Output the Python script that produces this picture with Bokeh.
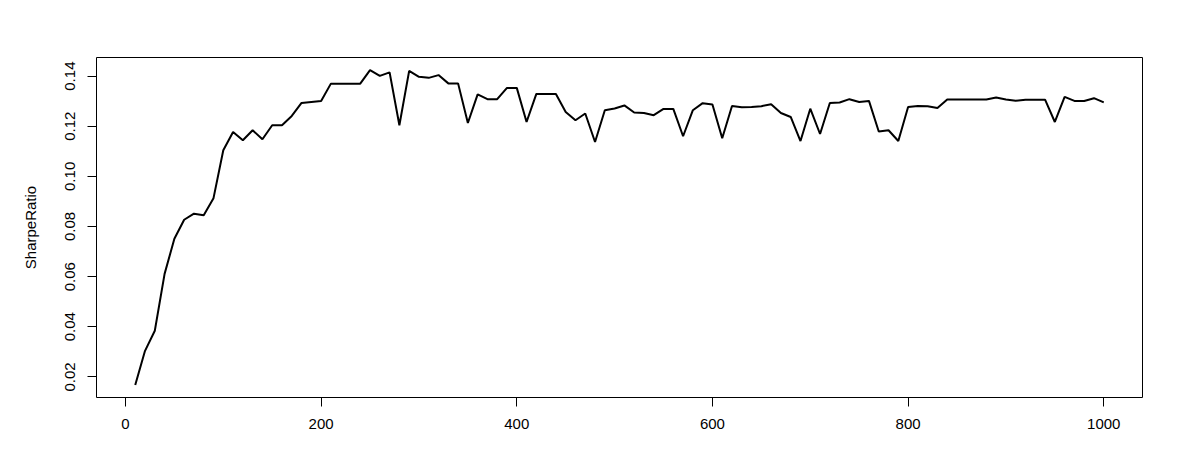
from bokeh.plotting import figure
from bokeh.models import Range1d, FixedTicker, PrintfTickFormatter
from bokeh.embed import file_html
from bokeh.resources import INLINE

iterations = list(range(10, 1001, 10))
sharpe_ratio = [
    0.0168, 0.0304, 0.0384, 0.0611, 0.0751, 0.0827, 0.0851, 0.0845, 0.0913, 0.1104,
    0.1177, 0.1144, 0.1184, 0.1148, 0.1204, 0.1204, 0.1241, 0.1293, 0.1297, 0.1301,
    0.1370, 0.1370, 0.1370, 0.1370, 0.1424, 0.1401, 0.1415, 0.1204, 0.1421, 0.1397,
    0.1393, 0.1404, 0.1371, 0.1371, 0.1213, 0.1327, 0.1308, 0.1308, 0.1353, 0.1353,
    0.1217, 0.1329, 0.1329, 0.1329, 0.1257, 0.1224, 0.1251, 0.1137, 0.1264, 0.1271,
    0.1283, 0.1255, 0.1253, 0.1244, 0.1269, 0.1269, 0.1160, 0.1264, 0.1292, 0.1287,
    0.1152, 0.1281, 0.1276, 0.1277, 0.1280, 0.1288, 0.1253, 0.1237, 0.1141, 0.1270,
    0.1169, 0.1293, 0.1295, 0.1308, 0.1297, 0.1301, 0.1179, 0.1184, 0.1141, 0.1277,
    0.1281, 0.1280, 0.1273, 0.1307, 0.1307, 0.1307, 0.1307, 0.1307, 0.1315, 0.1307,
    0.1302, 0.1306, 0.1306, 0.1306, 0.1217, 0.1317, 0.1301, 0.1301, 0.1312, 0.1295,
]
x_ticks = [0, 200, 400, 600, 800, 1000]
y_ticks = [0.02, 0.04, 0.06, 0.08, 0.10, 0.12, 0.14]
y_label = "SharpeRatio"

FONT = "Liberation Sans"
FSIZE = "15px"

p = figure(width=1184, height=458, output_backend="svg", toolbar_location=None,
           min_border_left=96, min_border_top=57, min_border_right=42, min_border_bottom=61)

xmin, xmax = min(iterations), max(iterations)
ymin, ymax = min(sharpe_ratio), max(sharpe_ratio)
xpad = (xmax - xmin) * 0.04
ypad = (ymax - ymin) * 0.04
p.x_range = Range1d(xmin - xpad, xmax + xpad)
p.y_range = Range1d(ymin - ypad, ymax + ypad)

p.line(iterations, sharpe_ratio, line_color="black", line_width=2)

p.grid.visible = False
p.outline_line_color = "black"
p.outline_line_width = 1
p.background_fill_color = "white"
p.border_fill_color = "white"

for ax in (p.xaxis[0], p.yaxis[0]):
    ax.axis_line_color = None
    ax.major_tick_line_color = "black"
    ax.major_tick_in = 0
    ax.major_tick_out = 9
    ax.minor_tick_line_color = None
    ax.major_label_text_font = FONT
    ax.major_label_text_font_size = FSIZE
    ax.major_label_text_color = "black"

p.xaxis[0].ticker = FixedTicker(ticks=x_ticks)
p.xaxis[0].major_label_standoff = 12

p.yaxis[0].ticker = FixedTicker(ticks=y_ticks)
p.yaxis[0].formatter = PrintfTickFormatter(format="%.2f")
p.yaxis[0].major_label_orientation = "vertical"
p.yaxis[0].major_label_standoff = 12
p.yaxis[0].axis_label = y_label
p.yaxis[0].axis_label_text_font = FONT
p.yaxis[0].axis_label_text_font_size = FSIZE
p.yaxis[0].axis_label_text_font_style = "normal"
p.yaxis[0].axis_label_text_color = "black"
p.yaxis[0].axis_label_standoff = 24

open("out.html", "w").write(file_html(p, INLINE))
